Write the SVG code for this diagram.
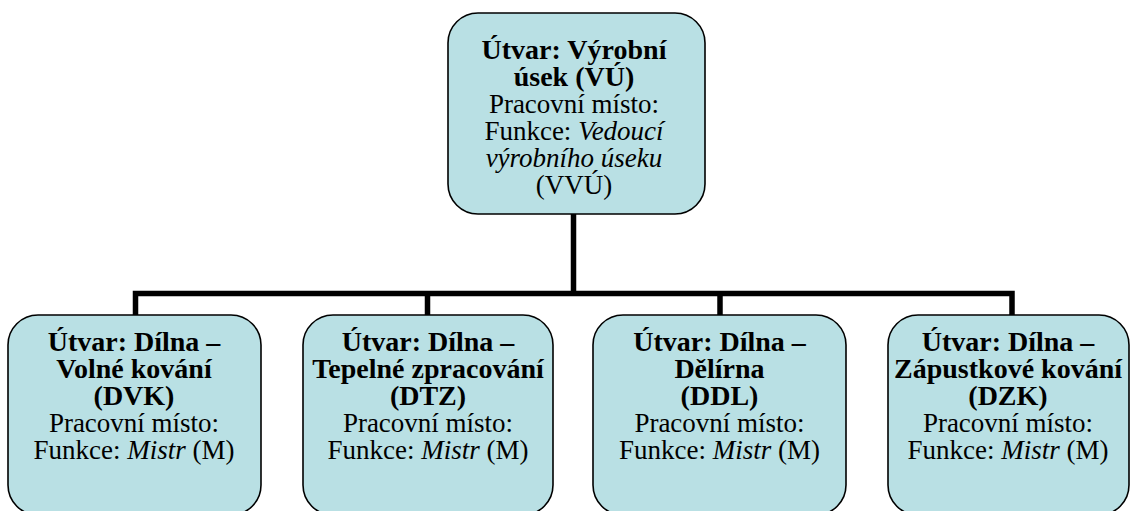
<svg xmlns="http://www.w3.org/2000/svg" width="1131" height="511" viewBox="0 0 1131 511">
  <style>
    .box { fill: #b9e0e4; stroke: #000; stroke-width: 1.6; }
    .wire { fill: none; stroke: #000; stroke-width: 5.5; stroke-linecap: butt; stroke-linejoin: miter; }
    text { font-family: "Liberation Serif", "Times New Roman", serif; font-size: 27px; fill: #000; text-anchor: middle; }
    .b { font-weight: bold; font-size: 28px; }
    .i { font-style: italic; }
  </style>
  <rect width="1131" height="511" fill="#fff"/>

  <!-- connectors: trunk from the top unit, bus bar, drops to each workshop -->
  <g id="connectors">
    <path class="wire" d="M573.5,214 V293.5"/>
    <path class="wire" d="M135.5,318 V293.5 H1012 V318"/>
    <path class="wire" d="M427.5,293.5 V318"/>
    <path class="wire" d="M720,293.5 V318"/>
  </g>

  <g id="node-vu">
    <rect class="box" x="448" y="13" width="257" height="201" rx="30" ry="30"/>
    <text x="574" y="59" class="b">Útvar: Výrobní</text>
    <text x="574" y="86" class="b">úsek (VÚ)</text>
    <text x="574" y="113">Pracovní místo:</text>
    <text x="574" y="140">Funkce: <tspan class="i">Vedoucí</tspan></text>
    <text x="574" y="167" class="i">výrobního úseku</text>
    <text x="574" y="194">(VVÚ)</text>
  </g>

  <g id="node-dvk">
    <rect class="box" x="8" y="315" width="253" height="200" rx="30" ry="30"/>
    <text x="134" y="351" class="b">Útvar: Dílna –</text>
    <text x="134" y="378" class="b">Volné kování</text>
    <text x="134" y="405" class="b">(DVK)</text>
    <text x="134" y="432">Pracovní místo:</text>
    <text x="134" y="459">Funkce: <tspan class="i">Mistr</tspan> (M)</text>
  </g>

  <g id="node-dtz">
    <rect class="box" x="303" y="315" width="250" height="200" rx="30" ry="30"/>
    <text x="428" y="351" class="b">Útvar: Dílna –</text>
    <text x="428" y="378" class="b">Tepelné zpracování</text>
    <text x="428" y="405" class="b">(DTZ)</text>
    <text x="428" y="432">Pracovní místo:</text>
    <text x="428" y="459">Funkce: <tspan class="i">Mistr</tspan> (M)</text>
  </g>

  <g id="node-ddl">
    <rect class="box" x="593" y="315" width="253" height="200" rx="30" ry="30"/>
    <text x="719.5" y="351" class="b">Útvar: Dílna –</text>
    <text x="719.5" y="378" class="b">Dělírna</text>
    <text x="719.5" y="405" class="b">(DDL)</text>
    <text x="719.5" y="432">Pracovní místo:</text>
    <text x="719.5" y="459">Funkce: <tspan class="i">Mistr</tspan> (M)</text>
  </g>

  <g id="node-dzk">
    <rect class="box" x="888" y="315" width="241" height="200" rx="30" ry="30"/>
    <text x="1008" y="351" class="b">Útvar: Dílna –</text>
    <text x="1008" y="378" class="b">Zápustkové kování</text>
    <text x="1008" y="405" class="b">(DZK)</text>
    <text x="1008" y="432">Pracovní místo:</text>
    <text x="1008" y="459">Funkce: <tspan class="i">Mistr</tspan> (M)</text>
  </g>
</svg>
